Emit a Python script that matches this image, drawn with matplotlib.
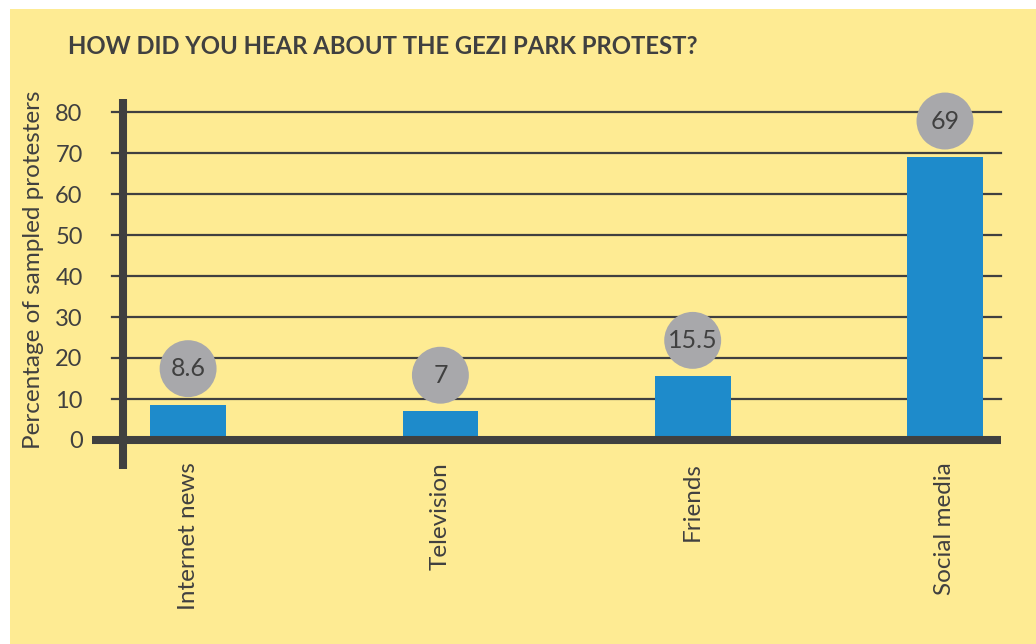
import matplotlib.pyplot as plt
from matplotlib.patches import Rectangle

# data
categories = ['Internet news', 'Television', 'Friends', 'Social media']
values = [8.6, 7, 15.5, 69]
value_labels = ['8.6', '7', '15.5', '69']
yticks = [0, 10, 20, 30, 40, 50, 60, 70, 80]

title = 'HOW DID YOU HEAR ABOUT THE GEZI PARK PROTEST?'
ylabel = 'Percentage of sampled protesters'

yellow = '#feeb93'
blue = '#1e8bcb'
grey = '#a8a8ab'
dark = '#404040'

plt.rcParams['font.family'] = ['Lato', 'DejaVu Sans']

W, H = 1036, 644
fig = plt.figure(figsize=(W / 100, H / 100), dpi=100, facecolor='white')
# yellow panel behind everything
fig.patches.append(Rectangle((10 / W, 0), 1 - 10 / W, 1 - 9 / H,
                             transform=fig.transFigure, facecolor=yellow,
                             edgecolor='none', zorder=-10))

# axes: x from px 123 to 1001, y 0 at px 440, 80 at px 112
ax = fig.add_axes([123 / W, (H - 440) / H, 878 / W, 328 / H])
ax.set_facecolor('none')
ax.set_xlim(-0.258, 3.222)
ax.set_ylim(0, 80)
for s in ax.spines.values():
    s.set_visible(False)

x = list(range(len(categories)))

# gridlines with small stubs left of the axis
for t in yticks[1:]:
    ax.plot([-0.0125, 1], [t, t], transform=ax.get_yaxis_transform(),
            color=dark, lw=1.6, clip_on=False, zorder=1)

ax.bar(x, values, width=0.30, color=blue, zorder=2)

# thick baseline and y-axis line
ax.plot([(92 - 123) / 878, 1], [0, 0], transform=ax.get_yaxis_transform(),
        color=dark, lw=5.8, clip_on=False, solid_capstyle='butt', zorder=3)
ax.plot([0, 0], [(440 - 469) / 328, (440 - 99) / 328], transform=ax.transAxes,
        color=dark, lw=5.8, clip_on=False, solid_capstyle='butt', zorder=3)

# value bubbles above bars
off = 8.8
ax.scatter(x, [v + off for v in values], s=1680, color=grey, zorder=4,
           clip_on=False, edgecolors='none')
for xi, v, lab in zip(x, values, value_labels):
    ax.text(xi, v + off, lab, ha='center', va='center', fontsize=18,
            color=dark, zorder=5)

ax.set_yticks(yticks)
ax.set_yticklabels([str(t) for t in yticks], fontsize=17, color=dark)
ax.tick_params(axis='y', length=0, pad=29)
ax.set_xticks(x)
ax.set_xticklabels(categories, rotation=90, fontsize=17.5, color=dark)
ax.tick_params(axis='x', length=0, pad=16)

fig.text(34 / W, 1 - 270 / H, ylabel, rotation=90, ha='center', va='center',
         fontsize=17.5, color=dark)
fig.text(68 / W, 1 - 47 / H, title, ha='left', va='center', fontsize=17.2,
         fontweight='bold', color=dark)

fig.savefig('out.png', dpi=100, facecolor='white')
